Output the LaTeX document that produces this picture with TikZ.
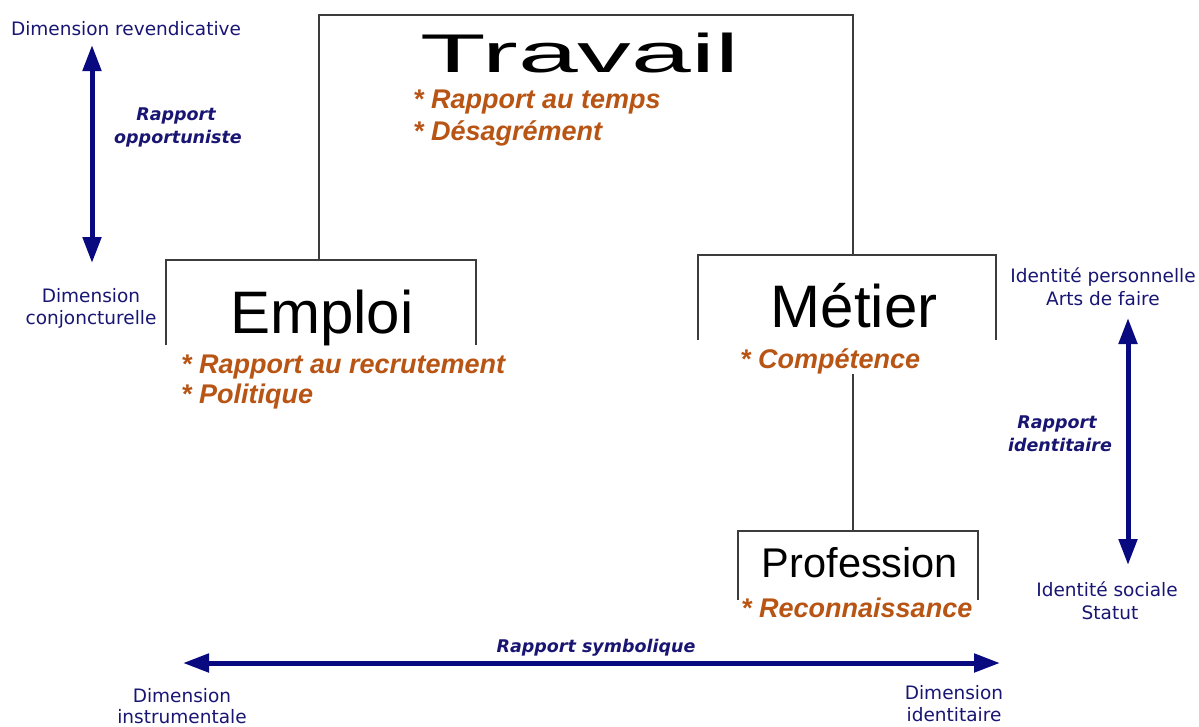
\documentclass[tikz,border=0pt]{standalone}
\usepackage{fontspec}
\usetikzlibrary{arrows.meta}
\newfontfamily\dvfont{DejaVu Sans}[BoldFont={DejaVu Sans Bold},ItalicFont={DejaVu Sans Oblique},BoldItalicFont={DejaVu Sans Bold Oblique}]
\newfontfamily\libfont{Liberation Sans}
\definecolor{navytext}{RGB}{25,22,115}
\definecolor{navyarrow}{RGB}{10,10,128}
\definecolor{rust}{RGB}{184,84,20}
\definecolor{boxline}{RGB}{60,60,60}
\begin{document}
\begin{tikzpicture}[x=1pt,y=-1pt,
  boxshape/.style={draw=none,rectangle,inner sep=0pt,outer sep=0pt},
  boxedge/.style={draw=boxline,line width=1.2pt},
  title/.style={inner sep=0pt,anchor=base,font=\libfont\fontsize{60}{60}\selectfont},
  bluelbl/.style={inner sep=0pt,anchor=base,text=navytext,font=\dvfont\fontsize{18.5}{22}\selectfont},
  bluebold/.style={inner sep=0pt,anchor=base,text=navytext,font=\dvfont\bfseries\itshape\fontsize{17.5}{22}\selectfont},
  rustlbl/.style={inner sep=0pt,anchor=base west,text=rust,font=\libfont\bfseries\itshape\fontsize{27}{30}\selectfont},
  axis/.style={draw=navyarrow,line width=5pt,{Triangle[length=26pt,width=18pt]}-{Triangle[length=26pt,width=18pt]}}
]
\useasboundingbox (0,0) rectangle (1199,726);
\fill[white] (0,0) rectangle (1199,726);

% box frames (open at the bottom)
\node[boxshape,minimum width=534pt,minimum height=240pt] (travailbox) at (586,135) {};
\node[boxshape,minimum width=310pt,minimum height=85pt] (emploibox) at (321,302.5) {};
\node[boxshape,minimum width=298pt,minimum height=85pt] (metierbox) at (847,297.5) {};
\node[boxshape,minimum width=240pt,minimum height=69pt] (profbox) at (858,565.5) {};

\draw[boxedge] (travailbox.north west |- emploibox.north) -- (travailbox.north west) -- (travailbox.north east) -- (travailbox.south east);
\draw[boxedge] (emploibox.south west) |- (emploibox.north east) -- (emploibox.south east);
\draw[boxedge] (metierbox.south west) |- (metierbox.north east) -- (metierbox.south east);
\draw[boxedge] (profbox.south west) |- (profbox.north east) -- (profbox.south east);

% titles
\node[title,font=\libfont\fontsize{54.5}{55}\selectfont] (travail) at (580,72) {\scalebox{1.97}[1]{Travail}};
\node[title] (emploi) at (322,333) {Emploi};
\node[title] (metier) at (854,327) {Métier};
\node[title,font=\libfont\fontsize{41.5}{42}\selectfont] (profession) at (860,577) {Profession};

% orange items
\node[rustlbl] (tr1) at (413,108) {* Rapport au temps};
\node[rustlbl] (tr2) at (413,140) {* Désagrément};
\node[rustlbl] (em1) at (181,373) {* Rapport au recrutement};
\node[rustlbl] (em2) at (181,403) {* Politique};
\node[rustlbl] (comp) at (740,368) {* Compétence};
\node[rustlbl] (reco) at (741,617) {* Reconnaissance};

% connector Metier -> Profession
\draw[boxedge] (travailbox.south east |- comp.south) -- (travailbox.south east |- profbox.north);

% left vertical axis
\node[bluelbl] (revend) at (126,35) {Dimension revendicative};
\node[bluebold] (opp1) at (176,120) {Rapport};
\node[bluebold] (opp2) at (178,143) {opportuniste};
\node[bluelbl] (conj1) at (91,302) {Dimension};
\node[bluelbl] (conj2) at (91,324) {conjoncturelle};
\coordinate (oppTop) at (92,45);
\coordinate (oppBot) at (92,263);
\draw[axis] (oppTop) -- (oppBot);

% right vertical axis
\node[bluelbl] (idp1) at (1103,282) {Identité personnelle};
\node[bluelbl] (idp2) at (1103,305) {Arts de faire};
\node[bluebold] (idr1) at (1057,428) {Rapport};
\node[bluebold] (idr2) at (1060,451) {identitaire};
\node[bluelbl] (ids1) at (1107,596) {Identité sociale};
\node[bluelbl] (ids2) at (1110,619) {Statut};
\coordinate (idTop) at (1128,318);
\coordinate (idBot) at (1128,565);
\draw[axis] (idTop) -- (idBot);

% bottom horizontal axis
\node[bluebold] (symb) at (596,652) {Rapport symbolique};
\node[bluelbl] (ins1) at (182,702) {Dimension};
\node[bluelbl] (ins2) at (182,723.5) {instrumentale};
\node[bluelbl] (ide1) at (954,699) {Dimension};
\node[bluelbl] (ide2) at (954,721) {identitaire};
\coordinate (symL) at (183,663);
\coordinate (symR) at (1000,663);
\draw[axis] (symL) -- (symR);
\end{tikzpicture}
\end{document}
